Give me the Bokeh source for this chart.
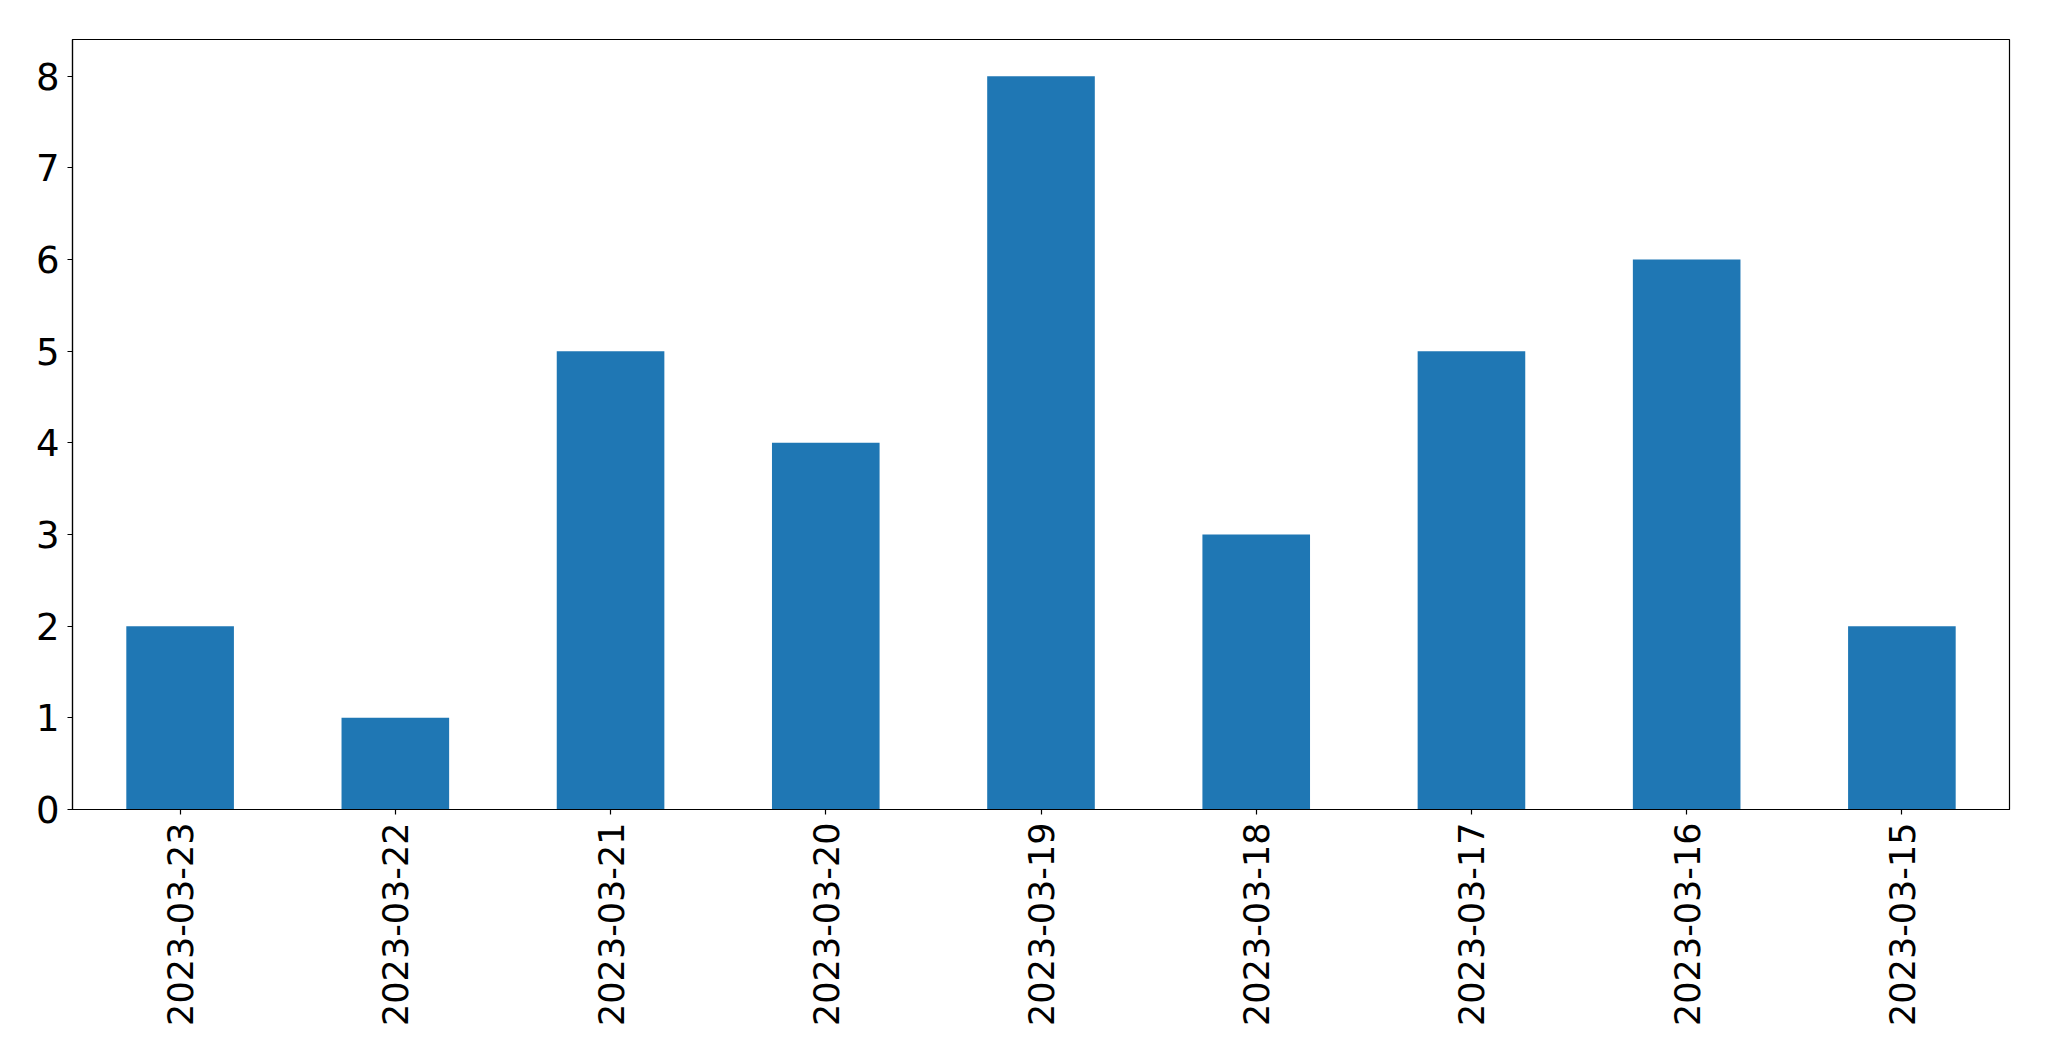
import math
from bokeh.plotting import figure
from bokeh.models import FactorRange, Range1d, FixedTicker
from bokeh.embed import file_html
from bokeh.resources import INLINE

dates = ["2023-03-23", "2023-03-22", "2023-03-21", "2023-03-20", "2023-03-19",
         "2023-03-18", "2023-03-17", "2023-03-16", "2023-03-15"]
counts = [2, 1, 5, 4, 8, 3, 5, 6, 2]
y_ticks = [0, 1, 2, 3, 4, 5, 6, 7, 8]

p = figure(width=2030, height=1045, output_backend="svg", toolbar_location=None,
           x_range=FactorRange(*dates, range_padding=0), y_range=Range1d(0, 8.4),
           min_border_left=72, min_border_right=21, min_border_top=39, min_border_bottom=236)

p.vbar(x=dates, top=counts, width=0.5, color="#1f77b4", line_color=None)

p.xgrid.visible = False
p.ygrid.visible = False
p.outline_line_color = "black"
p.outline_line_width = 1.2
p.background_fill_color = "white"
p.border_fill_color = "white"

for ax in (p.xaxis[0], p.yaxis[0]):
    ax.axis_line_color = "black"
    ax.axis_line_width = 1.2
    ax.major_tick_line_color = "black"
    ax.major_tick_line_width = 1.2
    ax.major_tick_out = 5
    ax.major_tick_in = 0
    ax.minor_tick_line_color = None
    ax.major_label_text_font = "DejaVu Sans"
    ax.major_label_text_color = "black"

p.yaxis[0].major_label_text_font_size = "37px"
p.xaxis[0].major_label_text_font_size = "35px"
p.yaxis[0].major_label_standoff = 8
p.xaxis[0].major_label_standoff = 8
p.yaxis[0].ticker = FixedTicker(ticks=y_ticks)
p.xaxis[0].major_label_orientation = math.pi / 2

open("out.html", "w").write(file_html(p, INLINE))
